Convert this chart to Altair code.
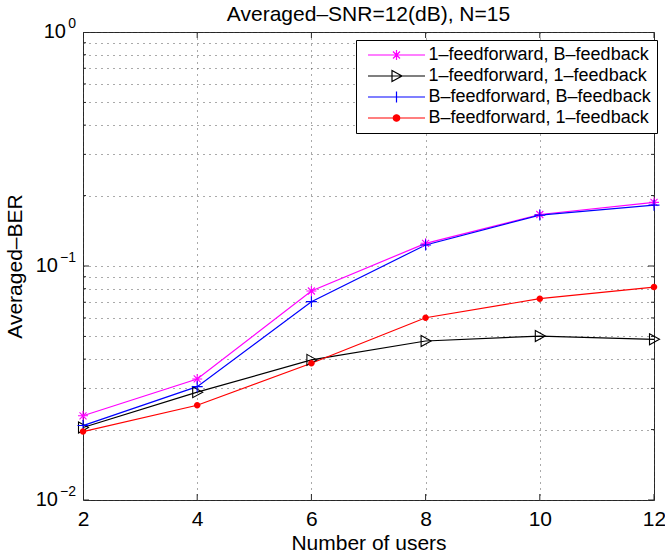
import altair as alt
import pandas as pd

# ---- data ----
users = [2, 4, 6, 8, 10, 12]
series_names = [
    "1–feedforward, B–feedback",
    "1–feedforward, 1–feedback",
    "B–feedforward, B–feedback",
    "B–feedforward, 1–feedback",
]
ber_1ff_Bfb = [0.0229, 0.0329, 0.0782, 0.125, 0.166, 0.187]
ber_1ff_1fb = [0.0204, 0.0289, 0.0397, 0.0478, 0.0502, 0.0486]
ber_Bff_Bfb = [0.0208, 0.0305, 0.0704, 0.123, 0.165, 0.182]
ber_Bff_1fb = [0.0196, 0.0254, 0.0384, 0.0601, 0.0725, 0.0813]

x_ticks = [2, 4, 6, 8, 10, 12]
y_decades = [0.01, 0.1, 1.0]
y_exponents = ["−2", "−1", "0"]
y_grid = [0.01, 0.02, 0.03, 0.04, 0.05, 0.06, 0.07, 0.08, 0.09,
          0.1, 0.2, 0.3, 0.4, 0.5, 0.6, 0.7, 0.8, 0.9, 1.0]

colors = ["#ff00ff", "#000000", "#0000ff", "#ff0000"]

# marker shapes (unit = sqrt(size)/2 px)
star = "M0,-1V1M-1,0H1M-0.7,-0.7L0.7,0.7M-0.7,0.7L0.7,-0.7"
tri = "M-0.9,-1.1L1.1,0L-0.9,1.1Z"
plus = "M0,-1.1V1.1M-1.1,0H1.1"
dot = "M-0.65,0A0.65,0.65,0,1,1,0.65,0A0.65,0.65,0,1,1,-0.65,0Z"
marker_paths = [star, tri, plus, dot]
seg = "M-5.7,0H5.7"
legend_paths = [seg + p for p in marker_paths]
legend_fills = ["transparent", "transparent", "transparent", "#ff0000"]

rows = []
for name, vals in zip(series_names, [ber_1ff_Bfb, ber_1ff_1fb, ber_Bff_Bfb, ber_Bff_1fb]):
    for u, v in zip(users, vals):
        rows.append({"users": u, "ber": v, "series": name})
df = pd.DataFrame(rows)

# inward tick table (half of each tick is clipped away)
ytick_rows = []
for side in [x_ticks[0], x_ticks[-1]]:
    for v in y_grid:
        ytick_rows.append({"users": side, "ber": v, "len": 12 if v in y_decades else 6})
xtick_rows = []
for side in [y_grid[0], y_grid[-1]]:
    for u in x_ticks:
        xtick_rows.append({"users": u, "ber": side, "len": 12})
ytick_df = pd.DataFrame(ytick_rows)
xtick_df = pd.DataFrame(xtick_rows)

# y tick labels "10" with superscript exponents
lab_df = pd.DataFrame({"users": [x_ticks[0]] * 3, "ber": y_decades, "exp": y_exponents})

FONT = "Liberation Sans"
GRID = dict(grid=True, gridDash=[1, 5], gridColor="#444444", gridOpacity=0.9)

x_scale = alt.Scale(domain=[2, 12], nice=False)
y_scale = alt.Scale(type="log", domain=[0.01, 1], nice=False)
color_scale = alt.Scale(domain=series_names, range=colors)

x_enc = alt.X(
    "users:Q", scale=x_scale, title="Number of users",
    axis=alt.Axis(values=x_ticks, domain=False, ticks=False, tickSize=0,
                  labelFontSize=21, labelPadding=8, labelFlush=False,
                  labelColor="#000000", titleFontSize=21, titleFontWeight="normal",
                  titlePadding=3, titleColor="#000000", **GRID),
)
y_enc = alt.Y(
    "ber:Q", scale=y_scale, title="Averaged–BER",
    axis=alt.Axis(values=y_grid, domain=False, ticks=False, tickSize=0,
                  labels=False, titleFontSize=21, titleFontWeight="normal",
                  titlePadding=58, titleColor="#000000", **GRID),
)

line_layers = []
point_layers = []
for name, path, col in zip(series_names, marker_paths, colors):
    filled = path == dot
    sub = alt.Chart(df).transform_filter(alt.datum.series == name)
    line_layers.append(sub.mark_line(strokeWidth=1.2, color=col).encode(x=x_enc, y=y_enc))
    point_layers.append(sub.mark_point(
        shape=path, size=100, filled=filled, opacity=1, strokeWidth=1.1, color=col,
    ).encode(x=x_enc, y=y_enc))

leg = alt.Legend(
    title=None, orient="none", legendX=273, legendY=8,
    strokeColor="#000000", fillColor="#ffffff", padding=6,
    labelFontSize=18, labelFont=FONT, labelColor="#000000", labelLimit=400,
    symbolSize=100, symbolStrokeWidth=1.2, symbolOffset=25.5, labelOffset=23,
    rowPadding=3,
)
legend_layer = alt.Chart(df).transform_filter("datum.users < 0").mark_point(
    opacity=1, filled=False, strokeWidth=1.2
).encode(
    x=x_enc, y=y_enc,
    color=alt.Color("series:N", scale=color_scale, legend=leg),
    shape=alt.Shape("series:N", scale=alt.Scale(domain=series_names, range=legend_paths), legend=leg),
    fill=alt.Fill("series:N", scale=alt.Scale(domain=series_names, range=legend_fills), legend=leg),
)

yticks = alt.Chart(ytick_df).mark_tick(orient="horizontal", thickness=1, color="#262626", clip=True, opacity=1).encode(
    x=x_enc, y=y_enc, size=alt.Size("len:Q", scale=None, legend=None)
)
xticks = alt.Chart(xtick_df).mark_tick(orient="vertical", thickness=1, color="#262626", clip=True, opacity=1).encode(
    x=x_enc, y=y_enc, size=alt.Size("len:Q", scale=None, legend=None)
)

lab_base = alt.Chart(lab_df)
base_top = lab_base.transform_filter(alt.datum.exp == "0").mark_text(
    text="10", align="right", baseline="middle", fontSize=20, font=FONT, color="#000000", dx=-17
).encode(x=x_enc, y=y_enc)
base_rest = lab_base.transform_filter(alt.datum.exp != "0").mark_text(
    text="10", align="right", baseline="middle", fontSize=20, font=FONT, color="#000000", dx=-25
).encode(x=x_enc, y=y_enc)
exps = lab_base.mark_text(
    align="right", baseline="middle", fontSize=14, font=FONT, color="#000000", dx=-7, dy=-8
).encode(x=x_enc, y=y_enc, text="exp:N")

chart = alt.layer(
    yticks, xticks, *line_layers, *point_layers, legend_layer, base_top, base_rest, exps
).properties(
    width=571, height=468,
    title=alt.TitleParams("Averaged–SNR=12(dB), N=15", fontSize=21, fontWeight="normal",
                          font=FONT, color="#000000", offset=-8),
    autosize=alt.AutoSizeParams(type="none"),
    padding={"left": 83, "top": 32, "right": 11, "bottom": 54},
).configure(
    font=FONT,
).configure_view(
    stroke="#262626", strokeWidth=1,
).configure_axis(
    labelFont=FONT, titleFont=FONT,
)

chart.save("out.html", embed_options={"renderer": "svg", "actions": False})
